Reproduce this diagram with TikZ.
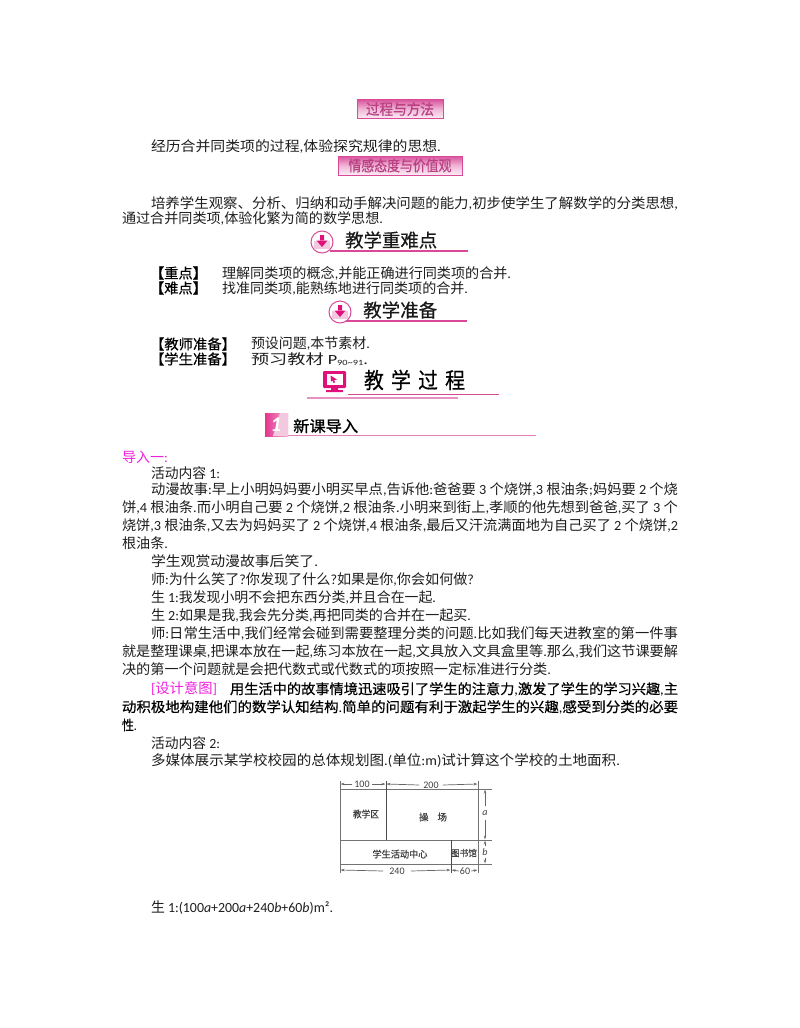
\documentclass[tikz,border=0pt]{standalone}
\usepackage{fontspec}
\usepackage{graphicx}
\usetikzlibrary{arrows.meta}
\setmainfont{Carlito}
\newfontfamily\latf{Carlito}
\newfontfamily\cjkf{Noto Sans CJK SC}
\newfontfamily\cjkb{Noto Sans CJK SC}[FakeBold=0.5]
\newfontfamily\cjkh{Noto Sans CJK SC}[FakeBold=1.0]
\def\cjkcur{\cjkf}
\makeatletter
\count@="4E00
\loop\ifnum\count@<"A000
  \XeTeXcharclass\count@=7
  \advance\count@ by 1
\repeat
\makeatother
\XeTeXcharclass"3001=7
\XeTeXcharclass"3010=7
\XeTeXcharclass"3011=7
\XeTeXinterchartokenstate=1
\XeTeXinterchartoks 0 7={\cjkcur}
\XeTeXinterchartoks 4095 7={\cjkcur}
\XeTeXinterchartoks 7 0={\latf}
\XeTeXinterchartoks 7 4095={\latf}
\newsavebox\fitbx
\newcommand\fitw[2]{\sbox\fitbx{#2}\pgfmathsetmacro\fitr{(#1 bp)/\wd\fitbx}\scalebox{\fitr}[1]{\usebox\fitbx}}
% name, left x, right x, y, text
\newcommand\tline[6][txt]{\node[#1] (#2) at (#3,#5) {\fitw{\the\numexpr#4-#3\relax}{#6}};}
\definecolor{body}{HTML}{1E1E1E}
\definecolor{maga}{HTML}{F020E0}
\definecolor{rosel}{HTML}{E0107A}
\definecolor{rosem}{HTML}{D84A98}
\tikzset{
  txt/.style={anchor=west,inner sep=0pt,outer sep=0pt,text=body,font=\fontsize{14bp}{16bp}\selectfont},
  mag/.style={txt,text=maga},
  strong/.style={txt,text=black,font=\fontsize{14bp}{16bp}\selectfont\def\cjkcur{\cjkb}},
  pinkbox/.style={draw=rosem,line width=1bp,top color=rosem!95,bottom color=rosem!10,middle color=rosem!40,inner sep=0pt,minimum height=19bp,text=rosem!85!black,font=\fontsize{15bp}{15bp}\selectfont\def\cjkcur{\cjkb}},
  headtxt/.style={inner sep=0pt,text=black!90,font=\fontsize{18.5bp}{20bp}\selectfont\def\cjkcur{\cjkb}},
  planline/.style={draw=black!55,line width=.8bp},
  planthick/.style={draw=black!70,line width=1bp},
  plandim/.style={draw=black!60,line width=.7bp,-{Stealth[length=4bp,width=2.6bp]}},
  plantxt/.style={inner sep=0pt,text=black!75,font=\fontsize{10bp}{10bp}\selectfont\def\cjkcur{\cjkb}},
  circ/.style={draw=rosem,line width=1bp,fill=white},
}
\begin{document}
\begin{tikzpicture}[x=1bp,y=-1bp]
\useasboundingbox (0,0) rectangle (800,1028);
\fill[white] (0,0) rectangle (800,1028);

% pink title boxes
\node[pinkbox,minimum width=86bp] (boxa) at (400,109) {\fitw{68}{过程与方法}};
\node[pinkbox,minimum width=124bp] (boxb) at (400,165.5) {\fitw{103}{情感态度与价值观}};

% body lines, top part
\tline{t1}{151}{441}{146}{经历合并同类项的过程,体验探究规律的思想.}
\tline{t2}{151}{678}{203}{培养学生观察、分析、归纳和动手解决问题的能力,初步使学生了解数学的分类思想,}
\tline{t3}{122}{383}{218}{通过合并同类项,体验化繁为简的数学思想.}

% heading 1
\fill[rosem] (330,250.4) rectangle (468,251.6);
\node[circle,circ,minimum size=22bp,inner sep=0pt] (ca) at (322,242) {};
\fill[rosem!30] (314,241) rectangle (330,249);
\fill[rosel] (320,235) rectangle (324,241) (316.5,240.5) -- (327.5,240.5) -- (322,247) -- cycle;
\node[headtxt,anchor=west] (ha) at (345,240) {\fitw{92}{教学重难点}};

\tline[strong]{t4}{150}{207}{273}{【重点】}
\tline{t5}{222}{511}{273}{理解同类项的概念,并能正确进行同类项的合并.}
\tline[strong]{t6}{150}{207}{288}{【难点】}
\tline{t7}{222}{468}{288}{找准同类项,能熟练地进行同类项的合并.}

% heading 2
\fill[rosem] (345,320.4) rectangle (467,321.6);
\node[circle,circ,minimum size=22bp,inner sep=0pt] (cb) at (340,312) {};
\fill[rosem!30] (332,311) rectangle (348,319);
\fill[rosel] (338,305) rectangle (342,311) (334.5,310.5) -- (345.5,310.5) -- (340,317) -- cycle;
\node[headtxt,anchor=west] (hb) at (363,310) {\fitw{74}{教学准备}};

\tline[strong]{t8}{150}{236}{344}{【教师准备】}
\tline{t9}{251}{370}{344}{预设问题,本节素材.}
\tline[strong]{t10}{150}{236}{359}{【学生准备】}
\tline{t11}{251}{368}{359}{预习教材 P\raisebox{-1.5pt}{\fontsize{8bp}{8bp}\selectfont 90\char"7E 91}.}

% heading 3
\fill[rosem] (348,393.5) rectangle (499,394.4);
\fill[rosem!60] (307,397) rectangle (458,398.6);
\fill[rosel,rounded corners=1.2bp] (323,371) rectangle (346,388);
\fill[white] (326.5,374) rectangle (342.5,384.5);
\fill[rosel] (330.5,375.5) -- (337,379.5) -- (334.2,380) -- (335,382.5) -- (333.5,382.8) -- (332.6,380.5) -- (331,381.5) -- cycle;
\fill[rosel] (331,388) rectangle (338,390) (326,390) rectangle (343,392);
\node[inner sep=0pt,text=black,font=\fontsize{22bp}{22bp}\selectfont\def\cjkcur{\cjkb}] (hc) at (414.5,380) {\fitw{101}{教\hspace{8bp}学\hspace{8bp}过\hspace{8bp}程}};

% heading 4
\fill[rosem!70] (265,435) rectangle (536,436);
\shade[left color=rosel!85,right color=rosem!45] (265,413) rectangle (288,436);
\fill[rosem!30] (280,413) -- (288,413) -- (288,436) -- (273,436) -- cycle;
\node[inner sep=0pt,text=white,font=\fontsize{21bp}{21bp}\selectfont\bfseries\itshape] (badge) at (276,424.5) {1};
\node[inner sep=0pt,anchor=west,text=black,font=\fontsize{15.5bp}{16bp}\selectfont\def\cjkcur{\cjkh}] (hd) at (293,426) {\fitw{65}{新课导入}};

% main text
\tline[mag]{t12}{122}{168}{457}{导入一:}
\tline{t13}{151}{220}{473}{活动内容 1:}
\tline{t14}{151}{678}{489}{动漫故事:早上小明妈妈要小明买早点,告诉他:爸爸要 3 个烧饼,3 根油条;妈妈要 2 个烧}
\tline{t15}{122}{678}{507}{饼,4 根油条.而小明自己要 2 个烧饼,2 根油条.小明来到街上,孝顺的他先想到爸爸,买了 3 个}
\tline{t16}{122}{678}{525}{烧饼,3 根油条,又去为妈妈买了 2 个烧饼,4 根油条,最后又汗流满面地为自己买了 2 个烧饼,2}
\tline{t17}{122}{168}{543}{根油条.}
\tline{t18}{151}{318}{561}{学生观赏动漫故事后笑了.}
\tline{t19}{151}{474}{579}{师:为什么笑了?你发现了什么?如果是你,你会如何做?}
\tline{t20}{151}{436}{597}{生 1:我发现小明不会把东西分类,并且合在一起.}
\tline{t21}{151}{471}{615}{生 2:如果是我,我会先分类,再把同类的合并在一起买.}
\tline{t22}{151}{678}{633}{师:日常生活中,我们经常会碰到需要整理分类的问题.比如我们每天进教室的第一件事}
\tline{t23}{122}{678}{651}{就是整理课桌,把课本放在一起,练习本放在一起,文具放入文具盒里等.那么,我们这节课要解}
\tline{t24}{122}{551}{669}{决的第一个问题就是会把代数式或代数式的项按照一定标准进行分类.}
\tline[mag]{t25}{151}{217}{689}{[设计意图]}
\tline[strong]{t26}{230}{678}{689}{用生活中的故事情境迅速吸引了学生的注意力,激发了学生的学习兴趣,主}
\tline[strong]{t27}{122}{678}{707}{动积极地构建他们的数学认知结构.简单的问题有利于激起学生的兴趣,感受到分类的必要}
\tline[strong]{t28}{122}{137}{725}{性.}
\tline{t29}{151}{220}{743}{活动内容 2:}
\tline{t30}{151}{620}{761}{多媒体展示某学校校园的总体规划图.(单位:m)试计算这个学校的土地面积.}
\tline{t31}{151}{333}{908}{生 1:(100{\itshape a}+200{\itshape a}+240{\itshape b}+60{\itshape b})m².}

% campus plan
\draw[planline] (340,781) -- (340,873);
\draw[planline] (478,781) -- (478,873);
\draw[planline] (340,789) -- (492,789);
\draw[planline] (340,840) -- (492,840);
\draw[planline] (340,864) -- (492,864);
\draw[planthick] (386,781) -- (386,840);
\draw[planthick] (451,840) -- (451,873);
\node[plantxt] (d100) at (362,784) {100};
\node[plantxt] (d200) at (431,785) {200};
\node[plantxt] (d240) at (397,871) {240};
\node[plantxt] (d60) at (465,871) {60};
\node[plantxt,font=\fontsize{10bp}{10bp}\selectfont\itshape] (da) at (485,813) {a};
\node[plantxt,font=\fontsize{10bp}{10bp}\selectfont\itshape] (db) at (485,852) {b};
\draw[plandim] (d100.west) ++(-2,0) -- (340.5,784);
\draw[plandim] (d100.east) ++(2,0) -- (385.5,784);
\draw[plandim] (d200.west) ++(-4,0) -- (386.5,784);
\draw[plandim] (d200.east) ++(4,0) -- (477.5,784);
\draw[plandim] (d240.west) ++(-6,0) -- (340.5,870);
\draw[plandim] (d240.east) ++(6,0) -- (450.5,870);
\draw[plandim] (d60.west) ++(-1,0) -- (451.5,870);
\draw[plandim] (d60.east) ++(1,0) -- (477.5,870);
\draw[plandim] (da.north) ++(0,-4) -- (485,789.5);
\draw[plandim] (da.south) ++(0,4) -- (485,839.5);
\draw[plandim] (db.north) ++(0,-2) -- (485,840.5);
\draw[plandim] (db.south) ++(0,2) -- (485,863.5);
\node[plantxt,font=\fontsize{9.5bp}{10bp}\selectfont\def\cjkcur{\cjkb}] (pa) at (366,814) {\fitw{26}{教学区}};
\node[plantxt,font=\fontsize{9.5bp}{10bp}\selectfont\def\cjkcur{\cjkb}] (pb) at (433,817) {\fitw{28}{操\hspace{9bp}场}};
\node[plantxt,font=\fontsize{9.5bp}{10bp}\selectfont\def\cjkcur{\cjkb}] (pc) at (400,854) {\fitw{55}{学生活动中心}};
\node[plantxt,font=\fontsize{9bp}{10bp}\selectfont\def\cjkcur{\cjkb}] (pd) at (464,853) {\fitw{26}{图书馆}};
\end{tikzpicture}
\end{document}
